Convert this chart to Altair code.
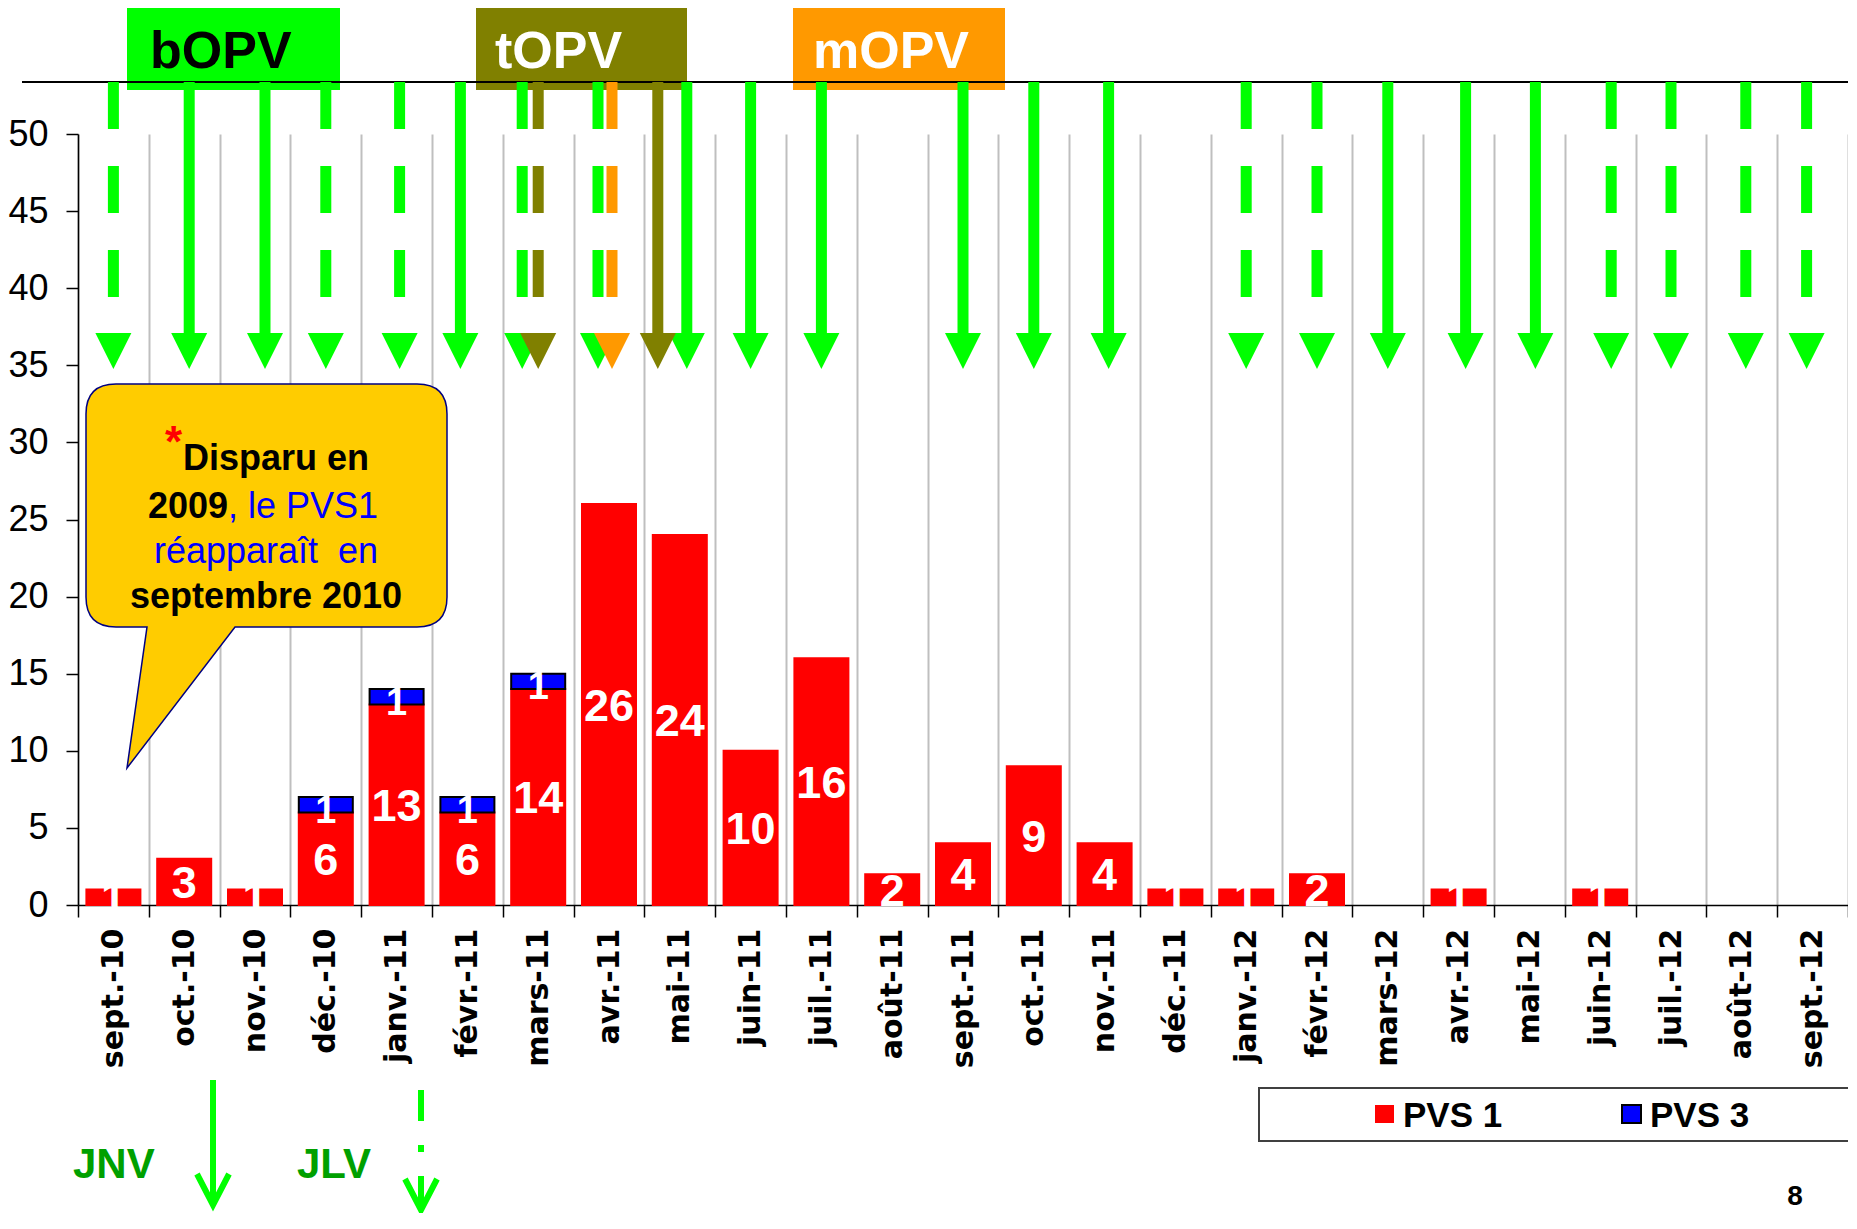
import altair as alt
import pandas as pd

# ---------------- data ----------------
MONTHS = ['sept.-10', 'oct.-10', 'nov.-10', 'déc.-10', 'janv.-11', 'févr.-11',
          'mars-11', 'avr.-11', 'mai-11', 'juin-11', 'juil.-11', 'août-11',
          'sept.-11', 'oct.-11', 'nov.-11', 'déc.-11', 'janv.-12', 'févr.-12',
          'mars-12', 'avr.-12', 'mai-12', 'juin-12', 'juil.-12', 'août-12', 'sept.-12']
PVS1 = [1, 3, 1, 6, 13, 6, 14, 26, 24, 10, 16, 2, 4, 9, 4, 1, 1, 2, 0, 1, 0, 1, 0, 0, 0]
PVS3 = [0, 0, 0, 1, 1, 1, 1, 0, 0, 0, 0, 0, 0, 0, 0, 0, 0, 0, 0, 0, 0, 0, 0, 0, 0]
SERIES = ['PVS 1', 'PVS 3']
SERIES_COLORS = ['#FF0000', '#0000FF']
SERIES_STROKES = ['#FF0000', '#000000']

VACCINES = ['bOPV', 'tOPV', 'mOPV']
VACCINE_COLORS = ['#00FF00', '#808000', '#FF9900']
VACCINE_TEXT = ['#000000', '#FFFFFF', '#FFFFFF']

# campaign arrows: JNV = solid arrow, JLV = dashed arrow
BOPV_JNV = ['oct.-10', 'nov.-10', 'févr.-11', 'mai-11', 'juin-11', 'juil.-11',
            'sept.-11', 'oct.-11', 'nov.-11', 'mars-12', 'avr.-12', 'mai-12']
BOPV_JLV = ['sept.-10', 'déc.-10', 'janv.-11', 'mars-11', 'avr.-11', 'janv.-12',
            'févr.-12', 'juin-12', 'juil.-12', 'août-12', 'sept.-12']
TOPV_JNV = ['mai-11']
TOPV_JLV = ['mars-11']
MOPV_JLV = ['avr.-11']

CALLOUT_STAR = '*'
CALLOUT_L1 = 'Disparu en'
CALLOUT_L2A = '2009'
CALLOUT_L2B = ', le PVS1'
CALLOUT_L3 = 'réapparaît \u00a0en'
CALLOUT_L4 = 'septembre 2010'
BOTTOM_LABELS = ['JNV', 'JLV']
PAGE_NUMBER = '8'

# ---------------- style / layout ----------------
W, H = 1770, 771
FONT = 'Liberation Sans'
ARROW_TOP = 53.37      # y value of the black header line
ARROW_HEAD = 37.1      # y value where arrow heads start
# small horizontal nudges (px) of hand-placed arrows
SHIFT = {('bOPV', 'oct.-10'): 5, ('bOPV', 'nov.-10'): 10, ('bOPV', 'janv.-11'): 3,
         ('bOPV', 'févr.-11'): -7,
         ('bOPV', 'mars-11'): -16, ('bOPV', 'avr.-11'): -11, ('mOPV', 'avr.-11'): 3,
         ('tOPV', 'mai-11'): -22, ('bOPV', 'mai-11'): 7, ('bOPV', 'nov.-11'): 4,
         ('bOPV', 'avr.-12'): 7, ('bOPV', 'mai-12'): 6, ('bOPV', 'juin-12'): 11,
         ('bOPV', 'août-12'): 4, ('bOPV', 'sept.-12'): -6}
TRI = 'M -18 0 L 18 0 L 0 36 Z'
OPEN_HEAD = 'M -16 -31 L 0 0 L 16 -31'
CALLOUT_PATH = ('M 38 250 L 339 250 Q 369 250 369 280 L 369 463 Q 369 493 339 493 '
                'L 157 493 L 49 634 L 69 493 L 38 493 Q 8 493 8 463 L 8 280 '
                'Q 8 250 38 250 Z')

X_SCALE = alt.Scale(domain=MONTHS, paddingInner=0, paddingOuter=0)
Y_SCALE = alt.Scale(domain=[0, 50], nice=False, zero=True)

X_AXIS = alt.Axis(title=None, tickBand='extent', grid=True, gridColor='#BFBFBF',
                  gridWidth=2, domainColor='#000000', domainWidth=1.5,
                  tickColor='#000000', tickSize=12, tickWidth=1.5, labelAngle=-90,
                  labelFont='DejaVu Sans', labelFontWeight='bold', labelFontSize=30,
                  labelColor='#000000', labelPadding=11)
Y_AXIS = alt.Axis(title=None, values=list(range(0, 51, 5)), grid=False,
                  domainColor='#000000', domainWidth=1.5, tickColor='#000000',
                  tickSize=12, tickWidth=1.5, labelFont=FONT, labelFontSize=36,
                  labelColor='#000000', labelPadding=18)

one = pd.DataFrame({'k': [0]})


def xenc():
    return alt.X('month:N', sort=MONTHS, scale=X_SCALE, axis=X_AXIS)


def text_layer(text, px, py, size, color, weight='bold', align='left', font=FONT):
    return alt.Chart(pd.DataFrame({'label': [text]})).mark_text(
        align=align, baseline='alphabetic', fontSize=size, fontWeight=weight,
        color=color, font=font
    ).encode(x=alt.value(px), y=alt.value(py), text='label:N')


def rect_layer(x0, x1, y0, y1, fill, stroke=None, sw=0):
    kw = dict(fill=fill, strokeWidth=sw)
    if stroke:
        kw['stroke'] = stroke
    return alt.Chart(one).mark_rect(**kw).encode(
        x=alt.value(x0), x2=alt.value(x1), y=alt.value(y0), y2=alt.value(y1))


# ---- bars (first layer: carries the axes) ----
rows = []
for m, a, b in zip(MONTHS, PVS1, PVS3):
    if a > 0:
        rows.append({'month': m, 'series': 'PVS 1', 'count': a, 's_order': 0})
    if b > 0:
        rows.append({'month': m, 'series': 'PVS 3', 'count': b, 's_order': 1})
bar_df = pd.DataFrame(rows)

bars = alt.Chart(bar_df).mark_bar(size=54, strokeWidth=2).encode(
    x=xenc(),
    y=alt.Y('count:Q', stack='zero', scale=Y_SCALE, axis=Y_AXIS),
    color=alt.Color('series:N', scale=alt.Scale(domain=SERIES, range=SERIES_COLORS), legend=None),
    stroke=alt.Stroke('series:N', scale=alt.Scale(domain=SERIES, range=SERIES_STROKES), legend=None),
    order=alt.Order('s_order:Q'),
)

layers = [bars]

# ---- vaccine header boxes ----
box_x = [(49, 262), (398, 609), (715, 927)]
text_x = [72, 417, 735]
for i, v in enumerate(VACCINES):
    layers.append(rect_layer(box_x[i][0], box_x[i][1], -127, -44, VACCINE_COLORS[i]))
    layers.append(text_layer(v, text_x[i], -66, 52, VACCINE_TEXT[i]))

# ---- header black line ----
layers.append(alt.Chart(one).mark_rule(color='#000000', strokeWidth=2).encode(
    x=alt.value(-56), x2=alt.value(1780), y=alt.value(-52)))

# ---- bar value labels ----
lab_base = alt.Chart(bar_df).transform_stack(
    stack='count', groupby=['month'], as_=['y0', 'y1'],
    sort=[alt.SortField(field='s_order', order='ascending')]
).transform_calculate(mid='(datum.y0 + datum.y1) / 2')

lab1 = lab_base.transform_filter(alt.datum.series == 'PVS 1').mark_text(
    font=FONT, fontWeight='bold', fontSize=45, color='#FFFFFF',
    align='center', baseline='middle', dy=2
).encode(x=xenc(), y=alt.Y('mid:Q', scale=Y_SCALE, axis=Y_AXIS), text='count:Q')
lab3 = lab_base.transform_filter(alt.datum.series == 'PVS 3').mark_text(
    font=FONT, fontWeight='bold', fontSize=38, color='#FFFFFF',
    align='center', baseline='middle', dy=7
).encode(x=xenc(), y=alt.Y('mid:Q', scale=Y_SCALE, axis=Y_AXIS), text='count:Q')
layers += [lab1, lab3]

# ---- campaign arrows ----
vcol = dict(zip(VACCINES, VACCINE_COLORS))
arows = []
for vac, months, kind in [('bOPV', BOPV_JNV, 'JNV'), ('bOPV', BOPV_JLV, 'JLV'),
                          ('tOPV', TOPV_JNV, 'JNV'), ('tOPV', TOPV_JLV, 'JLV'),
                          ('mOPV', MOPV_JLV, 'JLV')]:
    for m in months:
        arows.append({'month': m, 'vaccine': vac, 'kind': kind, 'hex': vcol[vac],
                      'shift': SHIFT.get((vac, m), 0)})
arrow_df = pd.DataFrame(arows)

groups = []
for vac in VACCINES:
    sub = arrow_df[arrow_df.vaccine == vac]
    for (kind, sh), _ in sub.groupby(['kind', 'shift']):
        groups.append((vac, kind, int(sh)))

for vac, kind, sh in groups:
    base = alt.Chart(arrow_df).transform_filter(
        (alt.datum.vaccine == vac) & (alt.datum.kind == kind) & (alt.datum.shift == sh))
    rule_kw = dict(strokeWidth=11, strokeCap='butt', xOffset=sh)
    if kind == 'JLV':
        rule_kw['strokeDash'] = [47, 37]
    layers.append(base.mark_rule(**rule_kw).encode(
        x=xenc(),
        y=alt.YDatum(ARROW_TOP, scale=Y_SCALE, axis=Y_AXIS),
        y2=alt.Y2Datum(ARROW_HEAD),
        color=alt.Color('hex:N', scale=None),
    ))
    layers.append(base.mark_point(shape=TRI, size=4, filled=True, opacity=1,
                                  strokeWidth=0, xOffset=sh).encode(
        x=xenc(),
        y=alt.YDatum(ARROW_HEAD, scale=Y_SCALE, axis=Y_AXIS),
        color=alt.Color('hex:N', scale=None),
    ))

# ---- callout ----
layers.append(alt.Chart(one).mark_point(
    shape=CALLOUT_PATH, size=4, filled=True, fill='#FFCC00', stroke='#000080',
    strokeWidth=1.5, opacity=1, fillOpacity=1, strokeOpacity=1
).encode(x=alt.value(0), y=alt.value(0)))
layers.append(text_layer(CALLOUT_STAR, 104, 323, 44, '#FF0000', align='right'))
layers.append(text_layer(CALLOUT_L1, 105, 336, 36, '#000000'))
layers.append(text_layer(CALLOUT_L2A, 150, 384, 36, '#000000', align='right'))
layers.append(text_layer(CALLOUT_L2B, 150, 384, 36, '#0000FF', weight='normal'))
layers.append(text_layer(CALLOUT_L3, 188, 429, 36, '#0000FF', weight='normal', align='center'))
layers.append(text_layer(CALLOUT_L4, 188, 474, 36, '#000000', align='center'))

# ---- legend ----
layers.append(rect_layer(1181, 1790, 954, 1007, '#FFFFFF', '#404040', 2))
leg_sq = [(1297, 1316), (1544, 1563)]
leg_tx = [1325, 1572]
for i, s in enumerate(SERIES):
    layers.append(rect_layer(leg_sq[i][0], leg_sq[i][1], 971, 989, SERIES_COLORS[i],
                             SERIES_STROKES[i], 2 if i == 1 else 0))
    layers.append(text_layer(s, leg_tx[i], 993, 35, '#000000'))

# ---- JNV / JLV key ----
layers.append(text_layer(BOTTOM_LABELS[0], -5, 1044, 42, '#00A000'))
layers.append(text_layer(BOTTOM_LABELS[1], 219, 1044, 42, '#00A000'))
layers.append(alt.Chart(one).mark_rule(color='#00FF00', strokeWidth=6, strokeCap='butt').encode(
    x=alt.value(135), y=alt.value(946), y2=alt.value(1069)))
layers.append(alt.Chart(one).mark_rule(color='#00FF00', strokeWidth=6, strokeCap='butt',
                                       strokeDash=[31, 24, 7, 24, 60, 0]).encode(
    x=alt.value(343), y=alt.value(956), y2=alt.value(1074)))
for hx, hy in [(135, 1071), (343, 1076)]:
    layers.append(alt.Chart(one).mark_point(
        shape=OPEN_HEAD, size=4, filled=False, stroke='#00FF00', strokeWidth=6,
        opacity=1, strokeOpacity=1, strokeJoin='miter'
    ).encode(x=alt.value(hx), y=alt.value(hy)))

# ---- page number ----
layers.append(text_layer(PAGE_NUMBER, 1717, 1071, 28, '#000000', align='center'))

chart = alt.layer(*layers).properties(
    width=W, height=H,
    padding={'left': 70, 'top': 126, 'right': 0, 'bottom': 308},
    autosize=alt.AutoSizeParams(type='none'),
    background='#FFFFFF',
).configure(font=FONT).configure_view(strokeWidth=0, stroke='transparent')

chart.save('out.html', embed_options={'renderer': 'svg', 'actions': False})
